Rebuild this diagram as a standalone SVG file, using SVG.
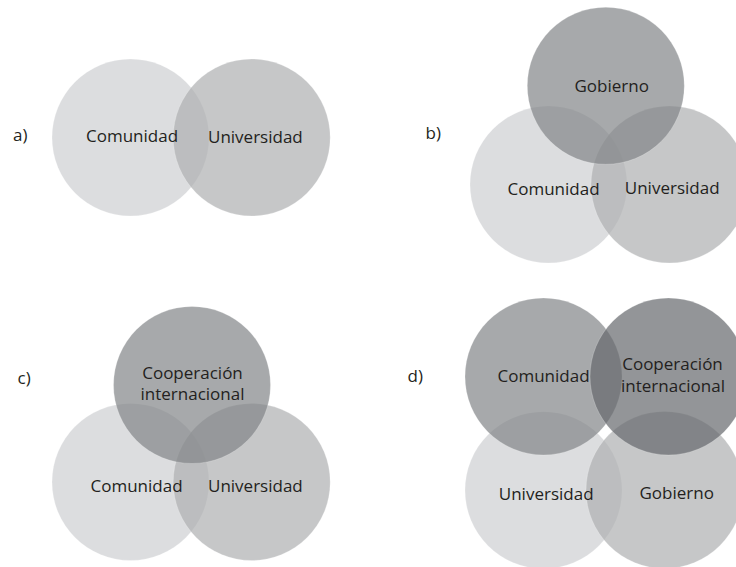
<svg xmlns="http://www.w3.org/2000/svg" width="736" height="567" viewBox="0 0 736 567">
  <style>
    .c { stroke: #ffffff; stroke-opacity: 0.35; stroke-width: 0.6; }
    .light { fill: #dcdddf; }
    .mid { fill: #aeafb1; fill-opacity: 0.7; }
    .dark { fill: #818488; fill-opacity: 0.7; }
    .darker { fill: #65686c; fill-opacity: 0.7; }
    text { font-family: "Open Sans", "Noto Sans", "Liberation Sans", sans-serif; font-size: 17px; fill: #231f20; }
    .mid-anchor { text-anchor: middle; }
  </style>
  <rect width="736" height="567" fill="#ffffff"/>

  <!-- Panel a -->
  <g id="panel-a">
    <g id="a-comunidad"><circle class="c light" cx="130.5" cy="137.5" r="78.5"/></g>
    <g id="a-universidad"><circle class="c mid" cx="251.7" cy="137.5" r="78.5"/></g>
  </g>

  <!-- Panel b -->
  <g id="panel-b">
    <g id="b-comunidad"><circle class="c light" cx="548.5" cy="184.5" r="78.5"/></g>
    <g id="b-universidad"><circle class="c mid" cx="669.5" cy="184.5" r="78.5"/></g>
    <g id="b-gobierno"><circle class="c dark" cx="605.8" cy="85.8" r="78.5"/></g>
  </g>

  <!-- Panel c -->
  <g id="panel-c">
    <g id="c-comunidad"><circle class="c light" cx="130.5" cy="482" r="78.5"/></g>
    <g id="c-universidad"><circle class="c mid" cx="251.7" cy="482" r="78.5"/></g>
    <g id="c-cooperacion"><circle class="c dark" cx="192" cy="385" r="78.5"/></g>
  </g>

  <!-- Panel d -->
  <g id="panel-d">
    <g id="d-universidad"><circle class="c light" cx="543.5" cy="490.2" r="78.5"/></g>
    <g id="d-gobierno"><circle class="c mid" cx="664.5" cy="490" r="78.5"/></g>
    <g id="d-comunidad"><circle class="c dark" cx="543.5" cy="376.5" r="78.5"/></g>
    <g id="d-cooperacion"><circle class="c darker" cx="668.5" cy="376.5" r="78.5"/></g>
  </g>

  <!-- Labels -->
  <g id="labels">
    <text id="label-a" x="13" y="141">a)</text>
    <text id="label-a-comunidad" x="86" y="141.5">Comunidad</text>
    <text id="label-a-universidad" x="208" y="143">Universidad</text>

    <text id="label-b" x="425.5" y="138.5">b)</text>
    <text id="label-b-gobierno" x="574.5" y="91.5">Gobierno</text>
    <text id="label-b-comunidad" x="507.5" y="195">Comunidad</text>
    <text id="label-b-universidad" x="624.8" y="193.5">Universidad</text>

    <text id="label-c" x="17.5" y="383.5">c)</text>
    <text id="label-c-cooperacion" class="mid-anchor" x="192.5" y="379">Cooperación</text>
    <text id="label-c-internacional" class="mid-anchor" x="192.5" y="400">internacional</text>
    <text id="label-c-comunidad" x="90.5" y="492.3">Comunidad</text>
    <text id="label-c-universidad" x="208" y="492.3">Universidad</text>

    <text id="label-d" x="407.5" y="381.7">d)</text>
    <text id="label-d-comunidad" x="497.5" y="381.7">Comunidad</text>
    <text id="label-d-cooperacion" class="mid-anchor" x="672.5" y="370">Cooperación</text>
    <text id="label-d-internacional" class="mid-anchor" x="673" y="391.7">internacional</text>
    <text id="label-d-universidad" x="498.8" y="500">Universidad</text>
    <text id="label-d-gobierno" x="639.5" y="499.3">Gobierno</text>
  </g>
</svg>
